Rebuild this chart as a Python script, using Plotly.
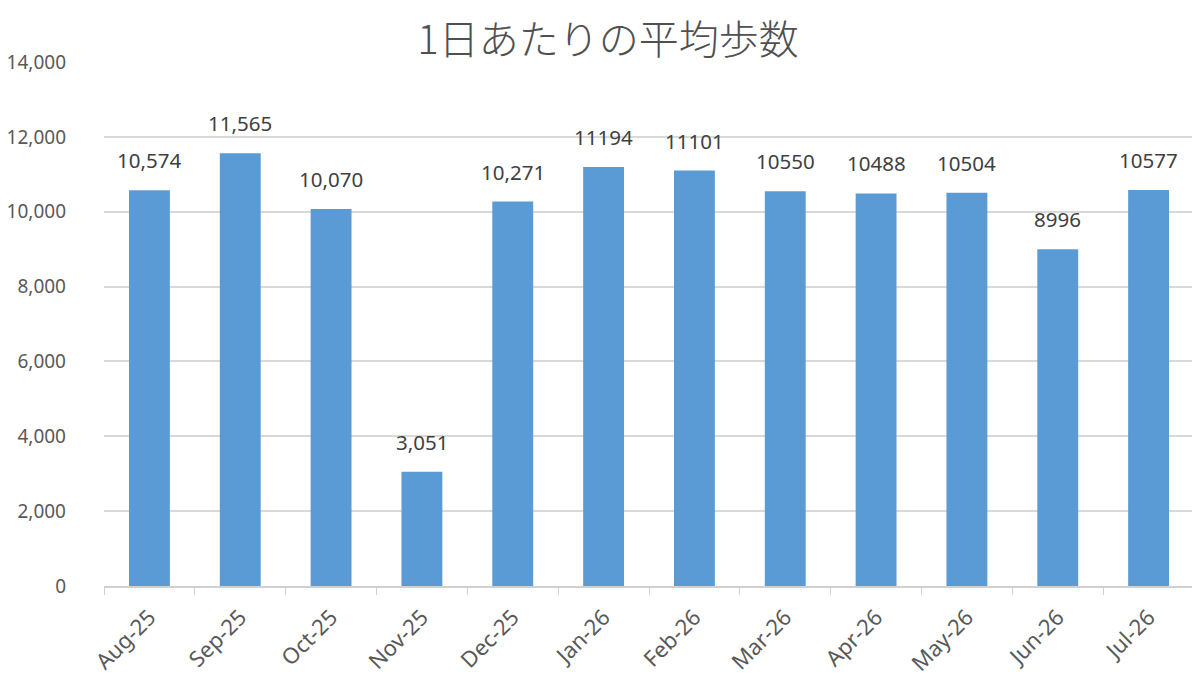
import plotly.graph_objects as go

categories = ["Aug-25", "Sep-25", "Oct-25", "Nov-25", "Dec-25", "Jan-26",
              "Feb-26", "Mar-26", "Apr-26", "May-26", "Jun-26", "Jul-26"]
steps = [10574, 11565, 10070, 3051, 10271, 11194, 11101, 10550, 10488, 10504, 8996, 10577]
labels = ["10,574", "11,565", "10,070", "3,051", "10,271", "11194",
          "11101", "10550", "10488", "10504", "8996", "10577"]
y_ticks = [0, 2000, 4000, 6000, 8000, 10000, 12000, 14000]
y_tick_labels = ["0", "2,000", "4,000", "6,000", "8,000", "10,000", "12,000", "14,000"]
title = "1日あたりの平均歩数"

font_family = "Noto Sans, Noto Sans CJK JP, sans-serif"

fig = go.Figure()
fig.add_trace(go.Bar(
    x=categories, y=steps,
    marker=dict(color="#5B9BD5", line=dict(width=0)),
    width=0.45,
    hoverinfo="skip",
))

for c, v, t in zip(categories, steps, labels):
    fig.add_annotation(x=c, y=v, text=t, showarrow=False, yanchor="bottom",
                       yshift=14, font=dict(size=20.5, color="#404040", family=font_family))

fig.update_layout(
    width=1200, height=688,
    margin=dict(l=96, r=14, t=54, b=110),
    paper_bgcolor="white", plot_bgcolor="white",
    title=dict(text=title, x=0.5, xanchor="center", y=0.953, yanchor="middle",
               font=dict(size=40, color="#505050", weight=300,
                         family="Noto Sans CJK JP, sans-serif")),
    showlegend=False,
    xaxis=dict(
        type="category", range=[-0.5, 11.5], automargin=False,
        tickangle=-45, tickfont=dict(size=22, color="#595959", family=font_family),
        showline=True, linecolor="#D0D0D0", linewidth=1.5,
        ticks="outside", tickson="boundaries", ticklen=7, tickcolor="#D0D0D0",
        showgrid=False, ticklabelstandoff=8,
    ),
    yaxis=dict(
        range=[0, 14000], tickvals=y_ticks, ticktext=y_tick_labels, automargin=False,
        tickfont=dict(size=19, color="#595959", family=font_family),
        showgrid=True, gridcolor="#D9D9D9", gridwidth=1.5,
        showline=False, zeroline=False, ticks="", ticklabelstandoff=37,
    ),
)

fig.write_html("out.html")
